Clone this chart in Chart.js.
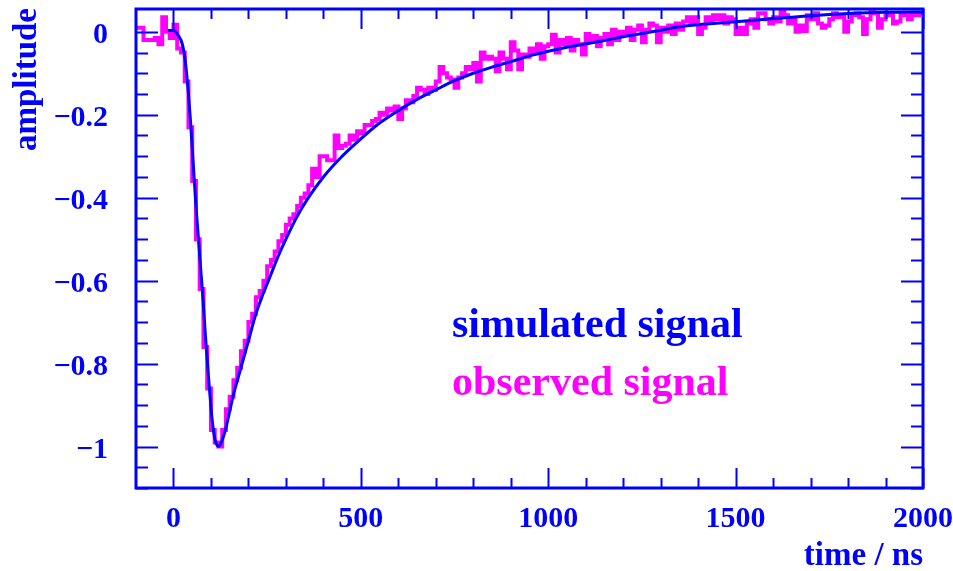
<!DOCTYPE html>
<html>
<head>
<meta charset="utf-8">
<script src="https://cdn.jsdelivr.net/npm/chart.js@4.4.1/dist/chart.umd.min.js"></script>
<style>
  html, body { margin: 0; padding: 0; background: #ffffff; }
  #myChart { display: block; }
</style>
</head>
<body>
<canvas id="myChart" width="953" height="571"></canvas>
<script>
// simulated signal (smooth curve), time in ns
const simTime = [-15, 0, 10, 20, 25, 30, 35, 40, 45, 50,
  55, 60, 65, 70, 75, 80, 85, 90, 95, 100,
  105, 110, 115, 120, 125, 130, 140, 150, 160, 180,
  200, 220, 240, 260, 280, 300, 330, 360, 400, 450,
  500, 550, 600, 650, 700, 750, 800, 850, 900, 950,
  1000, 1050, 1100, 1150, 1200, 1250, 1300, 1350, 1400, 1500,
  1600, 1700, 1800, 1900, 2000];
const simAmp = [0.003, 0.003, -0.005, -0.02, -0.035, -0.06, -0.10, -0.15, -0.21, -0.28,
  -0.35, -0.42, -0.48, -0.54, -0.60, -0.66, -0.73, -0.79, -0.85, -0.905,
  -0.95, -0.98, -0.995, -1.0, -0.995, -0.985, -0.955, -0.915, -0.875, -0.81,
  -0.745, -0.68, -0.63, -0.585, -0.54, -0.50, -0.445, -0.40, -0.35, -0.30,
  -0.258, -0.22, -0.19, -0.163, -0.14, -0.118, -0.10, -0.085, -0.072, -0.058,
  -0.047, -0.037, -0.029, -0.021, -0.012, -0.004, 0.004, 0.012, 0.017, 0.024,
  0.032, 0.039, 0.044, 0.047, 0.048];

// observed signal, histogram with 10 ns bins starting at -100 ns
const binStart = -100;
const binWidth = 10;
const observed = [
  0.01, 0.01, -0.02, -0.02, -0.02, -0.015, -0.03, 0.035, 0.0, -0.015,
  0.017, -0.04, -0.05, -0.12, -0.23, -0.36, -0.50, -0.62, -0.76, -0.86,
  -0.96, -0.99, -1.0, -0.96, -0.91, -0.88, -0.84, -0.81, -0.77, -0.745,
  -0.70, -0.68, -0.64, -0.625, -0.60, -0.565, -0.55, -0.53, -0.505, -0.49,
  -0.465, -0.45, -0.44, -0.42, -0.40, -0.39, -0.37, -0.33, -0.35, -0.30,
  -0.30, -0.31, -0.31, -0.25, -0.28, -0.275, -0.27, -0.25, -0.26, -0.24,
  -0.245, -0.225, -0.225, -0.215, -0.21, -0.195, -0.20, -0.185, -0.19, -0.18,
  -0.21, -0.185, -0.165, -0.17, -0.155, -0.135, -0.14, -0.15, -0.135, -0.14,
  -0.12, -0.085, -0.10, -0.11, -0.115, -0.135, -0.11, -0.10, -0.085, -0.09,
  -0.075, -0.12, -0.05, -0.065, -0.06, -0.065, -0.095, -0.05, -0.065, -0.09,
  -0.025, -0.045, -0.09, -0.055, -0.06, -0.04, -0.05, -0.03, -0.065, -0.035,
  -0.03, -0.007, -0.05, -0.02, -0.03, -0.015, -0.045, -0.02, -0.03, -0.055,
  -0.005, -0.02, -0.01, -0.035, -0.015, -0.005, -0.03, 0.005, -0.02, 0.0,
  -0.005, 0.01, -0.02, 0.005, 0.015, -0.025, 0.005, 0.02, 0.015, -0.025,
  0.01, 0.0, 0.015, -0.005, 0.02, 0.005, 0.025, 0.035, 0.02, 0.035,
  -0.005, 0.01, 0.035, 0.025, 0.04, 0.03, 0.04, 0.02, 0.035, 0.03,
  -0.005, 0.01, -0.005, 0.02, 0.03, 0.01, 0.045, 0.045, 0.03, 0.02,
  0.035, 0.025, 0.05, 0.04, 0.02, 0.03, 0.0, 0.015, 0.002, 0.04,
  0.03, 0.045, 0.02, 0.01, 0.015, 0.03, 0.045, 0.035, 0.04, 0.0,
  0.025, 0.04, 0.045, 0.035, -0.005, 0.03, 0.05, 0.045, 0.01, 0.03,
  0.04, 0.045, 0.02, 0.025, 0.045, 0.04, 0.03, 0.045, 0.04, 0.045
];

// axes
const xMin = -100, xMax = 2000;
const yMin = -1.1, yMax = 0.055;
const xMajorTicks = [0, 500, 1000, 1500, 2000];
const xMinorStep = 100;
const yMajorTicks = [0, -0.2, -0.4, -0.6, -0.8, -1];
const yMinorStep = 0.05;

const BLUE = '#0000ff';
const MAGENTA = '#ff00ff';
const FONT = '"Liberation Serif", "Times New Roman", serif';

function makeGraphic() {
    const canvasContext = document.getElementById('myChart').getContext('2d');

    const simPoints = simTime.map((t, i) => ({ x: t, y: simAmp[i] }));
    const obsPoints = observed.map((v, i) => ({ x: binStart + i * binWidth, y: v }));
    obsPoints.push({ x: binStart + observed.length * binWidth, y: observed[observed.length - 1] });

    // frame, inward ticks, labels and the text legend
    const framePlugin = {
        id: 'frame',
        afterDraw(chart) {
            const ctx = chart.ctx;
            const area = chart.chartArea;
            const xs = chart.scales.x;
            const ys = chart.scales.y;
            ctx.save();
            ctx.strokeStyle = BLUE;
            ctx.lineWidth = 3;
            ctx.strokeRect(area.left, area.top, area.right - area.left, area.bottom - area.top);

            ctx.lineWidth = 2;
            ctx.beginPath();
            // x ticks, bottom and top
            for (let t = xMin; t <= xMax + 0.001; t += xMinorStep) {
                if (t <= xMin) continue;
                const px = Math.round(xs.getPixelForValue(t)) + 0.5;
                const len = xMajorTicks.includes(t) ? 20 : 10;
                ctx.moveTo(px, area.bottom);
                ctx.lineTo(px, area.bottom - len);
                ctx.moveTo(px, area.top);
                ctx.lineTo(px, area.top + len);
            }
            // y ticks, left and right
            for (let k = 0; ; k++) {
                const v = Math.round((0 - k * yMinorStep) * 100) / 100;
                if (v < yMin) break;
                const py = Math.round(ys.getPixelForValue(v)) + 0.5;
                const major = yMajorTicks.some(m => Math.abs(m - v) < 1e-6);
                const len = major ? 22 : 12;
                ctx.moveTo(area.left, py);
                ctx.lineTo(area.left + len, py);
                ctx.moveTo(area.right, py);
                ctx.lineTo(area.right - len, py);
            }
            ctx.stroke();

            // tick labels
            ctx.fillStyle = BLUE;
            ctx.font = 'bold 30px ' + FONT;
            ctx.textAlign = 'center';
            ctx.textBaseline = 'alphabetic';
            xMajorTicks.forEach(t => {
                ctx.fillText(String(t), xs.getPixelForValue(t), area.bottom + 39);
            });
            ctx.textAlign = 'right';
            yMajorTicks.forEach(v => {
                const txt = v === 0 ? '0' : '\u2212' + String(Math.abs(v));
                ctx.fillText(txt, 108, ys.getPixelForValue(v) + 11);
            });

            // axis titles
            ctx.font = 'bold 33px ' + FONT;
            ctx.textAlign = 'right';
            ctx.fillText('time / ns', 923, 565);
            ctx.save();
            ctx.translate(36, 8);
            ctx.rotate(-Math.PI / 2);
            ctx.textAlign = 'right';
            ctx.fillText('amplitude', 0, 0);
            ctx.restore();

            // legend text
            ctx.font = 'bold 42px ' + FONT;
            ctx.textAlign = 'left';
            ctx.fillStyle = BLUE;
            ctx.fillText('simulated signal', 452, 337);
            ctx.fillStyle = MAGENTA;
            ctx.fillText('observed signal', 452, 395);
            ctx.restore();
        }
    };

    const data = {
        datasets: [{
                label: 'simulated signal',
                data: simPoints,
                borderColor: BLUE,
                borderWidth: 3,
                pointRadius: 0,
                cubicInterpolationMode: 'monotone',
                fill: false
            }, {
                label: 'observed signal',
                data: obsPoints,
                borderColor: MAGENTA,
                borderWidth: 4,
                pointRadius: 0,
                stepped: 'before',
                fill: false
            }]
    };

    const config = {
        type: 'line',
        data: data,
        options: {
            responsive: false,
            animation: false,
            layout: {
                padding: { left: 136, top: 9, right: 30, bottom: 83 }
            },
            plugins: {
                legend: { display: false },
                tooltip: { enabled: false }
            },
            scales: {
                x: { type: 'linear', min: xMin, max: xMax, display: false },
                y: { type: 'linear', min: yMin, max: yMax, display: false }
            }
        },
        plugins: [framePlugin]
    };

    const myChart = new Chart(canvasContext, config);
}
makeGraphic();
</script>
</body>
</html>
